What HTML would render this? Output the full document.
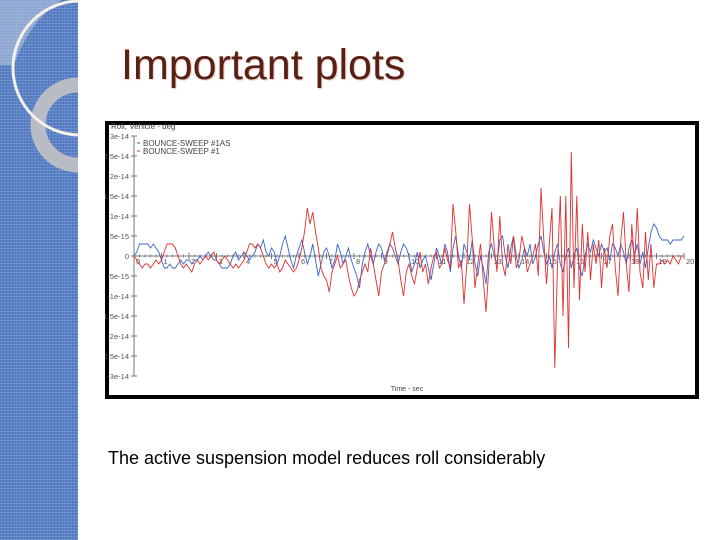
<!DOCTYPE html>
<html><head><meta charset="utf-8">
<style>
html,body{margin:0;padding:0;background:#fff;}
#slide{position:relative;width:720px;height:540px;overflow:hidden;background:#fff;font-family:"Liberation Sans",sans-serif;}
#side{position:absolute;left:0;top:0;width:78px;height:540px;background:#5a82c8;
background-image:repeating-linear-gradient(0deg,rgba(255,255,255,.14) 0 1px,transparent 1px 3px),repeating-linear-gradient(90deg,rgba(0,0,40,.10) 0 1px,transparent 1px 3px);}
#title{position:absolute;left:121px;top:41px;font-size:43px;color:#5a2016;text-shadow:1px 1px 1px #e6c9c2;}
#caption{position:absolute;left:108px;top:448px;font-size:18px;color:#000;}
#frame{position:absolute;left:105px;top:121px;width:594px;height:278px;}
</style></head><body>
<div id="slide">
<div id="side">
<svg width="78" height="540">
<path d="M0,0 L62,0 Q30,20 14,65 L0,65 Z" fill="rgba(215,220,230,0.45)"/>
<circle cx="78" cy="125" r="40" fill="none" stroke="#b9bcc4" stroke-width="15"/>
<circle cx="80" cy="68" r="67" fill="none" stroke="#f4f1e8" stroke-width="3"/>
</svg>
</div>
<div id="title">Important plots</div>
<div id="frame">
<svg id="chart" width="594" height="278"></svg>
</div>
<div id="caption">The active suspension model reduces roll considerably</div>
</div>
<script>
// values in units of 1e-15 deg, sampled every 0.1 s from 0 to 20 s
const redValues = [
0,-1,-2,-3,-2,-2,-3,-2,-1,-2,
-1,1,3,3,3,2,0,-2,-3,-2,
-3,-4,-2,-1,-2,-1,0,-1,0,1,
-1,-2,-1,0,-1,-2,-3,-2,-3,-2,
-1,1,3,3,2,3,2,0,-2,-3,
-2,-3,-2,-4,-3,-1,-2,-3,-4,-3,
-1,2,6,12,8,11,6,2,-3,-5,
-6,-9,-4,-2,0,-3,-2,-1,-5,-8,
-10,-9,-6,-4,-2,-4,2,-2,-6,-10,
-4,-2,0,3,6,2,-1,-6,-10,-4,
-2,-5,-7,-3,1,-4,-2,-7,-3,0,
1,-3,-2,2,-1,-3,13,6,-3,-1,
-12,-2,13,4,-8,-2,3,-6,-14,-3,
11,2,-4,10,-2,-5,3,-2,5,-3,
-1,5,2,-4,-2,0,3,-5,17,4,
-7,3,12,-28,-2,15,-15,15,-23,26,
-8,15,-11,8,-4,6,-6,3,-2,4,
-8,2,-3,5,8,-3,-10,4,11,-2,
-9,8,-2,12,-4,-8,6,-6,3,-8,
-2,-2,-1,-2,-1,-2,0,-1,-2,0,0
];
const blueValues = [
0,1,3,3,3,3,2,3,2,1,
-1,-3,-3,-2,-3,-3,-2,-1,-2,-1,
-1,-2,-1,-1,0,-1,0,1,0,-1,
-1,-2,-3,-3,-3,-2,0,1,-1,0,
1,0,-1,0,1,3,2,4,1,0,
2,1,-2,0,3,5,2,-1,-3,0,
2,4,1,-2,0,3,-1,-5,-2,1,
2,0,-3,-1,3,1,-2,0,2,-1,
-3,-5,-8,-2,1,3,0,-2,1,3,
2,-1,1,3,2,0,-2,1,3,2,
0,-4,-2,1,-3,-1,0,-3,-6,-2,
2,0,-2,3,1,-4,2,5,0,-3,
3,1,-1,4,-2,-5,0,-3,-7,1,
3,0,-2,4,5,0,-3,2,5,0,
-3,-1,2,0,3,-2,0,3,5,1,
-2,0,-3,1,3,-2,-4,0,2,-3,
0,2,-3,-5,0,3,1,4,2,0,
3,1,2,-1,3,2,0,3,1,-2,
2,4,0,3,-2,1,-3,2,6,8,
7,5,4,4,4,3,4,4,4,4,5
];
const yTickValues = [30,25,20,15,10,5,0,-5,-10,-15,-20,-25,-30];
const yTickLabels = ["3e-14","2.5e-14","2e-14","1.5e-14","1e-14","5e-15","0","-5e-15","-1e-14","-1.5e-14","-2e-14","-2.5e-14","-3e-14"];
const xTickValues = [0,1,2,3,4,5,6,7,8,9,10,11,12,13,14,15,16,17,18,19,20];

const svg = document.getElementById('chart');
const NS = 'http://www.w3.org/2000/svg';
const X0 = 134-105, X1 = 684-105, Y0 = 256-121;
function xs(t){return X0 + (X1-X0)*t/20;}
function ys(v){return Y0 - v*4;}
function mk(tag, attrs){const e=document.createElementNS(NS,tag);for(const k in attrs)e.setAttribute(k,attrs[k]);svg.appendChild(e);return e;}

const bg = mk('rect',{x:2,y:2,width:590,height:274,fill:'#fff',stroke:'#000','stroke-width':4});



const yaxis = mk('line',{x1:X0,y1:ys(30),x2:X0,y2:ys(-30),stroke:'#777','stroke-width':1});


const xaxis = mk('line',{x1:X0,y1:Y0,x2:X1,y2:Y0,stroke:'#777','stroke-width':1});



yTickValues.forEach((v,i)=>{
  const y=ys(v);
  const tk=mk('line',{x1:X0-3,y1:y,x2:X0+3,y2:y,stroke:'#777'});
  
  
  const tx=mk('text',{x:X0-5,y:y+3,'font-size':7.5,'text-anchor':'end',fill:'#555','font-family':'Liberation Sans, sans-serif'});
  tx.textContent=yTickLabels[i];
  
  
});
xTickValues.forEach(t=>{
  const x=xs(t);
  const tk=mk('line',{x1:x,y1:Y0-3,x2:x,y2:Y0+3,stroke:'#777'});
  
  
  const tx=mk('text',{x:x+2,y:Y0+8,'font-size':7.5,fill:'#555','font-family':'Liberation Sans, sans-serif'});
  tx.textContent=String(t);
  
  
  for(let k=1;k<5&&t<20;k++){
    const mt=mk('line',{x1:xs(t+k*0.2),y1:Y0-1.5,x2:xs(t+k*0.2),y2:Y0+1.5,stroke:'#888'});
    
    
  }
});

function series(vals,color,name){
  const d=vals.map((v,i)=>(i?'L':'M')+xs(i*0.1).toFixed(1)+','+ys(v).toFixed(1)).join(' ');
  const p=mk('path',{d:d,fill:'none',stroke:color,'stroke-width':0.9});
  
  
}
series(blueValues,'#3a64c8','series-bounce-sweep-1as');
series(redValues,'#e03030','series-bounce-sweep-1');

const yt=mk('text',{x:6,y:8,'font-size':8,fill:'#444','font-family':'Liberation Sans, sans-serif'});
yt.textContent='Roll, Vehicle - deg';


const xt=mk('text',{x:302,y:270,'font-size':7,fill:'#444','text-anchor':'middle','font-family':'Liberation Sans, sans-serif'});
xt.textContent='Time - sec';



const l1=mk('text',{x:38,y:25,'font-size':8,fill:'#444','font-family':'Liberation Sans, sans-serif'});
l1.textContent='BOUNCE-SWEEP #1AS';


const m1=mk('line',{x1:32,y1:22,x2:35,y2:22,stroke:'#3a64c8'});


const l2=mk('text',{x:38,y:33,'font-size':8,fill:'#444','font-family':'Liberation Sans, sans-serif'});
l2.textContent='BOUNCE-SWEEP #1';


const m2=mk('line',{x1:32,y1:30,x2:35,y2:30,stroke:'#e03030'});


</script>
</body></html>
